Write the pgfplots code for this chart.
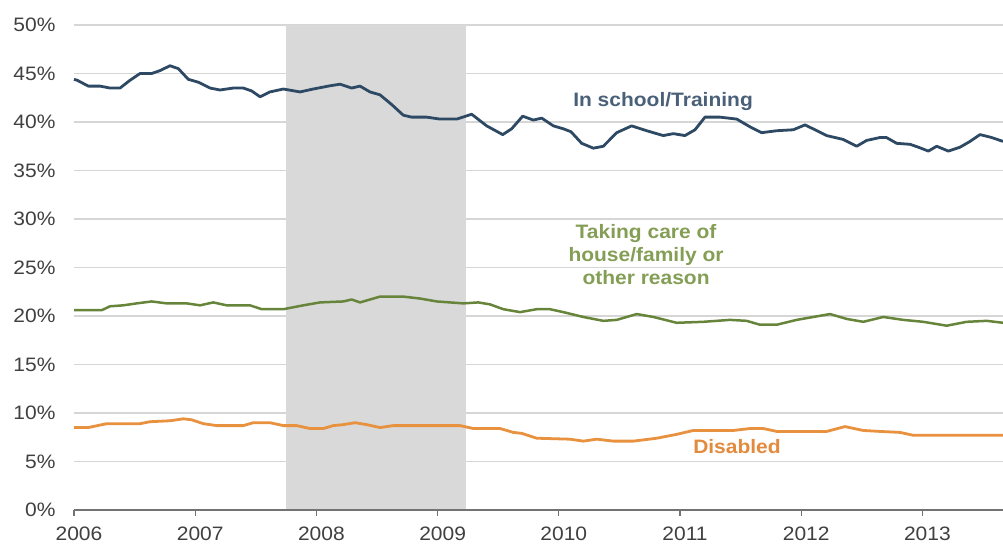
\documentclass[border=0pt]{standalone}
\usepackage{pgfplots}
\pgfplotsset{compat=1.18}
\usepackage{fontspec}
\setmainfont{Liberation Sans}[FakeStretch=1.08]
\definecolor{blueline}{HTML}{2D4963}
\definecolor{bluetext}{HTML}{4A6079}
\definecolor{greenline}{HTML}{67853A}
\definecolor{greentext}{HTML}{849E55}
\definecolor{orangeline}{HTML}{E8913F}
\definecolor{orangetext}{HTML}{E48A3C}
\definecolor{gridc}{HTML}{D6D6D6}
\definecolor{shade}{HTML}{D9D9D9}
\definecolor{tickc}{HTML}{404040}
\begin{document}
\begin{tikzpicture}
\useasboundingbox (-74bp,-38bp) rectangle (929bp,510bp);
\begin{axis}[
  at={(0,0)}, anchor=south west,
  scale only axis,
  width=929bp, height=485bp,
  xmin=2006, xmax=2013.665,
  ymin=0, ymax=50,
  axis x line*=bottom, axis y line*=left,
  y axis line style={draw=none},
  x axis line style={draw=gray!90!black, line width=1.4bp},
  xtick={2006,2007,2008,2009,2010,2011,2012,2013},
  xticklabels={2006,2007,2008,2009,2010,2011,2012,2013},
  ytick={0,5,10,15,20,25,30,35,40,45,50},
  yticklabels={0\%,5\%,10\%,15\%,20\%,25\%,30\%,35\%,40\%,45\%,50\%},
  tick align=outside,
  major tick length=6bp,
  xtick style={draw=gray!90!black, line width=1.2bp},
  ytick style={draw=none},
  ymajorgrids,
  grid style={draw=gridc, line width=1.5bp},
  ticklabel style={font=\fontsize{19.5}{23}\selectfont, text=tickc},
  xticklabel style={xshift=5bp, yshift=-7bp},
  yticklabel style={xshift=-9bp},
  /pgf/number format/assume math mode=true,
  clip=false,
]
% recession shading
\addplot[fill=shade, draw=none] coordinates {(2007.75,0.15) (2007.75,50) (2009.235,50) (2009.235,0.15)} -- cycle;

% In school / Training
\addplot[blueline, line width=2.8bp, line join=round] coordinates {
(2006.00,44.4) (2006.027,44.3) (2006.118,43.7) (2006.215,43.7) (2006.297,43.5) (2006.380,43.5)
(2006.462,44.3) (2006.545,45.0) (2006.641,45.0) (2006.710,45.3) (2006.792,45.8) (2006.861,45.5)
(2006.943,44.4) (2007.026,44.1) (2007.122,43.5) (2007.205,43.3) (2007.314,43.5) (2007.397,43.5)
(2007.466,43.2) (2007.535,42.6) (2007.617,43.1) (2007.727,43.4) (2007.865,43.1) (2007.974,43.4)
(2008.098,43.7) (2008.195,43.9) (2008.291,43.5) (2008.360,43.7) (2008.442,43.1) (2008.525,42.8)
(2008.621,41.8) (2008.717,40.7) (2008.786,40.5) (2008.910,40.5) (2009.020,40.3) (2009.158,40.3)
(2009.281,40.8) (2009.405,39.6) (2009.537,38.7) (2009.611,39.3) (2009.702,40.6) (2009.790,40.2)
(2009.859,40.4) (2009.955,39.6) (2010.037,39.3) (2010.100,39.0) (2010.189,37.8) (2010.285,37.3)
(2010.367,37.5) (2010.478,38.9) (2010.601,39.6) (2010.725,39.1) (2010.862,38.6) (2010.945,38.8)
(2011.041,38.6) (2011.124,39.2) (2011.206,40.5) (2011.330,40.5) (2011.468,40.3) (2011.578,39.5)
(2011.674,38.9) (2011.798,39.1) (2011.935,39.2) (2012.031,39.7) (2012.114,39.2) (2012.210,38.6)
(2012.347,38.2) (2012.458,37.5) (2012.540,38.1) (2012.650,38.4) (2012.703,38.4) (2012.788,37.8)
(2012.898,37.7) (2012.967,37.4) (2013.049,37.0) (2013.118,37.5) (2013.214,37.0) (2013.310,37.4)
(2013.393,38.0) (2013.475,38.7) (2013.571,38.4) (2013.665,38.0)
};

% Taking care of house/family or other reason
\addplot[greenline, line width=2.5bp, line join=round] coordinates {
(2006.00,20.6) (2006.035,20.6) (2006.229,20.6) (2006.297,21.0) (2006.407,21.1) (2006.517,21.3)
(2006.641,21.5) (2006.765,21.3) (2006.930,21.3) (2007.040,21.1) (2007.149,21.4) (2007.260,21.1)
(2007.452,21.1) (2007.549,20.7) (2007.727,20.7) (2007.892,21.1) (2008.030,21.4) (2008.222,21.5)
(2008.291,21.7) (2008.360,21.4) (2008.525,22.0) (2008.717,22.0) (2008.855,21.8) (2008.993,21.5)
(2009.212,21.3) (2009.336,21.4) (2009.432,21.2) (2009.542,20.7) (2009.680,20.4) (2009.818,20.7)
(2009.927,20.7) (2010.037,20.4) (2010.202,19.9) (2010.367,19.5) (2010.478,19.6) (2010.643,20.2)
(2010.780,19.9) (2010.973,19.3) (2011.192,19.4) (2011.413,19.6) (2011.550,19.5) (2011.660,19.1)
(2011.798,19.1) (2011.963,19.6) (2012.100,19.9) (2012.238,20.2) (2012.375,19.7) (2012.512,19.4)
(2012.677,19.9) (2012.842,19.6) (2013.007,19.4) (2013.200,19.0) (2013.366,19.4) (2013.531,19.5)
(2013.665,19.3)
};

% Disabled
\addplot[orangeline, line width=2.8bp, line join=round] coordinates {
(2006.00,8.5) (2006.035,8.5) (2006.118,8.5) (2006.270,8.9) (2006.545,8.9) (2006.627,9.1)
(2006.792,9.2) (2006.902,9.4) (2006.971,9.3) (2007.067,8.9) (2007.177,8.7) (2007.397,8.7)
(2007.479,9.0) (2007.617,9.0) (2007.727,8.7) (2007.837,8.7) (2007.947,8.4) (2008.057,8.4)
(2008.139,8.7) (2008.222,8.8) (2008.318,9.0) (2008.415,8.8) (2008.525,8.5) (2008.634,8.7)
(2009.185,8.7) (2009.295,8.4) (2009.515,8.4) (2009.625,8.0) (2009.694,7.9) (2009.818,7.4)
(2010.092,7.3) (2010.202,7.1) (2010.313,7.3) (2010.450,7.1) (2010.615,7.1) (2010.808,7.4)
(2010.973,7.8) (2011.110,8.2) (2011.440,8.2) (2011.578,8.4) (2011.687,8.4) (2011.798,8.1)
(2012.210,8.1) (2012.361,8.6) (2012.512,8.2) (2012.650,8.1) (2012.815,8.0) (2012.925,7.7)
(2013.665,7.7)
};

\node[text=bluetext, font=\bfseries\fontsize{19.5}{23}\selectfont] at (axis cs:2010.86,42.06) {In school/Training};
\node[text=greentext, font=\bfseries\fontsize{19.5}{23}\selectfont, align=center] at (axis cs:2010.72,26.3) {Taking care of\\house/family or\\other reason};
\node[text=orangetext, font=\bfseries\fontsize{19.5}{23}\selectfont] at (axis cs:2011.47,6.5) {Disabled};
\end{axis}
\end{tikzpicture}
\end{document}
